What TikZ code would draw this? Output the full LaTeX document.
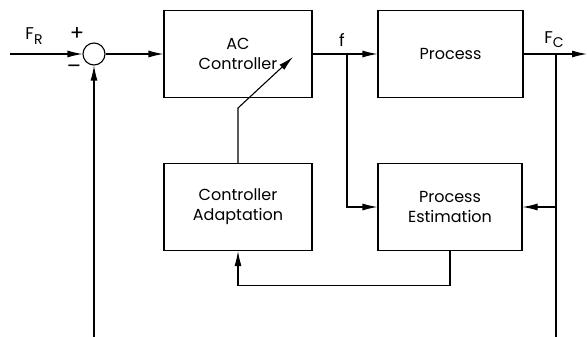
\documentclass[tikz,border=0pt]{standalone}
\usepackage{fontspec}
\setmainfont{Poppins}
\usetikzlibrary{arrows.meta}

\begin{document}
\begin{tikzpicture}[x=1pt, y=-1pt, line width=1.1pt,
    block/.style={draw, rectangle, minimum width=148pt, minimum height=87pt,
      align=center, font=\fontsize{16}{20}\selectfont},
    sig/.style={-{Latex[length=15pt,width=7pt]}},
    lbl/.style={font=\fontsize{17}{19}\selectfont}]
  \useasboundingbox (0,0) rectangle (587,337);
  % blocks
  \node[draw, circle, minimum size=22pt, inner sep=0pt] (sum) at (94,54) {};
  \node[block] (ctrl) at (238,54) {AC\\Controller};
  \node[block, minimum width=145pt] (proc) at (450.5,54) {Process};
  \node[block, minimum width=144pt] (est) at (450,207) {Process\\Estimation};
  \node[block] (adapt) at (238,207) {Controller\\Adaptation};
  % free ends
  \coordinate (in) at (10,54);
  \coordinate (out) at (587,54);
  \coordinate (fb) at (556,54);
  \coordinate (fr) at (347,54);
  \coordinate (sumlow) at (94,337);
  \coordinate (fblow) at (556,337);
  \coordinate (bend) at (238,108);
  \coordinate (tip) at (293,57);
  % labels
  \node[lbl] at (34,36) {F\raisebox{-0.45ex}{\fontsize{14}{16}\selectfont R}};
  \node[lbl, font=\fontsize{21}{23}\selectfont] at (77,34) {+};
  \node[lbl, font=\fontsize{21}{23}\selectfont] at (74,69) {\textendash};
  \node[lbl] at (342,40) {f};
  \node[lbl] at (554,40) {F\raisebox{-0.45ex}{\fontsize{14}{16}\selectfont C}};
  % signals
  \draw[sig] (in) -- (sum);
  \draw[sig] (sum) -- (ctrl);
  \draw[sig] (ctrl) -- (proc);
  \draw[sig] (proc) -- (out);
  \draw[sig] (fr) |- (est.west);
  \draw (fb) -- (fblow);
  \draw[sig] (fblow |- est.east) -- (est.east);
  \draw[sig] (sumlow) -- (sum);
  \draw[sig] (est.south) -- ++(0,34) -| (adapt.south);
  \draw[sig] (adapt.north) -- (bend) -- (tip);
\end{tikzpicture}
\end{document}
